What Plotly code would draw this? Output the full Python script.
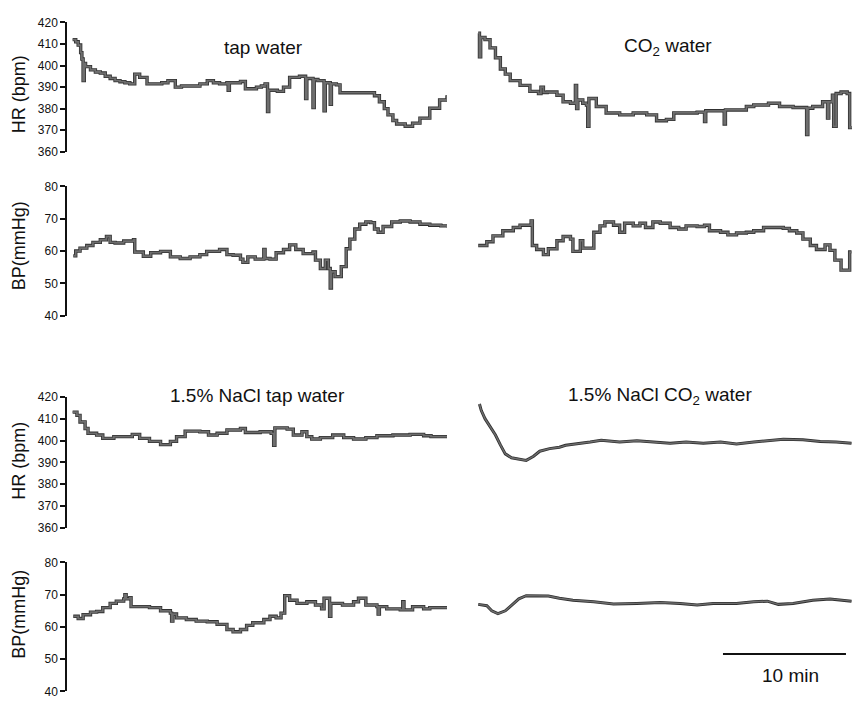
import plotly.graph_objects as go

W, H = 852, 705

# ---------------- data (time in minutes from start of each record) ----------------
hr_tap_t = [0.05,0.3,0.5,0.7,0.8,0.9,1.0,1.1,1.5,1.9,2.3,2.7,3.1,3.5,3.9,4.3,4.7,5.1,5.5,6.1,
            6.7,7.3,7.8,8.4,8.9,9.6,10.4,11.0,11.5,12.0,12.6,12.7,12.8,13.1,13.7,14.1,14.6,15.0,15.4,15.7,
            15.9,16.0,16.7,17.2,17.7,18.5,19.0,19.1,19.6,19.7,20.0,20.5,20.6,21.0,21.1,21.5,21.8,22.6,24.2,24.6,
            25.0,25.4,25.7,26.1,26.4,27.1,27.7,28.3,29.1,29.9,30.5]
hr_tap_v = [412,411,409.5,406,403,393,401,399.5,398,397,396.5,395,394,393,392.5,392,391.5,396,394.5,391.5,
            391.5,392,393,390,390.5,390.5,391.5,393,392,391.5,392,388.5,392,392,392.6,389.2,389.2,390,390.5,391.5,
            378.6,388.5,388,390,394.5,395,384.7,394,380.5,393.5,393,379,392,382,391.5,391,387.4,387.4,387.4,386,
            383.2,380,377.1,374.5,372.9,371.8,373.3,375.6,380.2,384,386.2]

hr_co2_t = [0.1,0.2,0.3,0.65,1.06,1.5,1.9,2.3,2.7,3.5,4.3,5.0,5.2,5.4,5.7,6.5,7.0,7.6,8.0,8.1,
            8.2,8.6,8.9,9.0,9.1,9.3,9.7,10.5,11.6,12.7,13.8,14.6,15.4,16.0,17.0,17.9,18.5,18.6,19.2,20.1,
            20.2,20.8,21.9,22.5,23.7,24.6,25.7,26.8,26.9,27.3,28.1,28.5,28.6,28.9,29.0,29.2,29.6,30.1,30.3,30.45]
hr_co2_v = [415,404,413,412,408.2,403.6,398.4,396,393,390.8,388,387,390,387.5,387.7,386.2,383.2,382.5,390.8,380,
            384,382.5,381.7,371.8,384.7,384.7,381,378,377.1,378,377.1,374.4,375,378,378,378.4,374,379,379,372.9,
            379.4,379.4,381,381.7,382.5,381,380.5,368,380.2,381,383.2,375.6,383.2,386.2,371.8,387,387.7,387,371.2,372]

bp_tap_t = [0.1,0.3,0.65,1.2,1.7,2.3,2.8,3.1,3.5,4.2,5.0,5.1,5.8,6.4,7.2,8.0,8.8,9.6,10.4,10.95,
            11.5,12.0,12.6,13.1,13.7,13.9,14.3,14.9,15.6,15.7,16.1,16.6,17.2,17.7,18.2,18.8,19.6,19.8,20.2,20.6,
            20.85,21.0,21.1,21.4,21.9,22.3,22.6,23.0,23.4,23.9,24.3,24.6,24.9,25.3,26.0,26.7,27.5,28.3,29.1,30.0,30.5]
bp_tap_v = [58.5,60,60.9,61.7,62.7,63.5,64.5,62.7,62.5,63.1,63.5,59.7,58.4,59.5,59.9,58.2,57.7,58.2,58.9,59.9,
            59.9,60.5,58.9,58.7,57.5,56.5,58.2,57.5,60.5,57.7,57.5,59.5,60.5,61.9,60.5,59.2,59.7,57.2,54.6,57.2,
            54.6,48.6,53.6,52.1,55.2,60.7,63.7,66.8,68.3,69,68.8,66.8,65.8,67.6,69,69.3,69,68.3,68,67.8,67.3]

bp_co2_t = [0.1,0.8,1.3,2.1,2.95,3.5,4.2,4.4,4.5,4.85,5.4,5.8,6.5,7.0,7.6,7.8,8.4,8.6,9.2,9.5,
            10.0,10.4,11.1,11.6,12.0,12.7,13.25,13.7,14.3,14.9,15.7,16.4,17.0,17.9,18.5,18.9,19.8,20.4,21.1,21.9,
            22.5,23.3,24.1,24.9,25.4,26.0,26.5,27.1,27.6,28.3,28.7,29.1,29.6,30.0,30.3,30.45]
bp_co2_v = [61.7,62.9,64.7,66.3,67.3,68,68,69.3,61.7,60.5,58.9,60.7,63.2,64.5,63.7,59.9,63.2,60.9,60.9,65.8,
            67.8,69,68,65.8,68.6,67.8,68.6,67.3,69,68.6,67.3,66.8,67.8,67.6,68,66.3,65.8,65,65.6,65.8,
            66.3,67.3,67.3,67,66.3,65.6,63.7,61.7,60.5,61.9,60.2,57.2,54.1,54.1,59.7,59.7]

hr_nacl_tap_t = [0.05,0.4,0.65,1.06,1.3,2.0,2.5,3.4,4.2,4.9,5.5,6.3,7.2,8.0,8.5,9.2,9.9,10.4,11.1,11.8,
                 12.6,13.7,14.1,15.3,16.2,16.4,16.5,17.5,18.0,18.7,19.1,19.5,20.2,21.2,22.1,22.9,23.9,24.8,26.1,27.5,
                 28.6,29.2,30.5]
hr_nacl_tap_v = [413,411.5,408.5,405.5,403.3,402.5,401,401.8,401.8,402.8,401,399.6,398.1,399.6,401.8,404.3,404.3,404,402.5,403.3,
                 404.8,405.5,403.7,404,403.3,397.8,405.8,405.2,402.5,404,401.8,400.7,401.3,402.5,401.3,400.7,401.3,402.2,402.5,402.8,
                 402.2,401.8,401.5]

hr_nacl_co2_t = [0.2,0.35,0.65,1.06,1.5,1.9,2.3,2.8,3.5,4.0,4.6,5.1,5.9,6.7,7.2,8.1,9.2,10.1,11.6,13.0,
                 14.3,15.7,17.0,18.4,19.8,21.1,22.5,23.8,24.9,26.5,27.9,29.2,30.45]
hr_nacl_co2_v = [416.7,413.7,410,406.3,402.5,398,393.9,392.1,391.3,390.9,392.8,395.1,396.3,396.9,397.8,398.4,399.3,400.1,399.3,399.9,
                 399.3,398.7,399.3,398.8,399.3,398.4,399.3,399.9,400.6,400.3,399.6,399.3,398.8]

bp_nacl_tap_t = [0.1,0.5,0.9,1.5,2.0,2.5,3.1,3.6,4.2,4.3,4.4,4.7,4.8,5.5,6.3,7.2,8.0,8.1,8.2,8.5,
                 9.3,10.1,11.0,11.8,12.6,13.1,13.7,14.2,14.7,15.6,16.1,16.6,17.0,17.3,17.7,18.3,19.1,19.8,20.3,20.5,
                 20.95,21.05,22.0,22.9,23.3,23.9,24.8,24.9,25.0,25.6,26.7,26.9,27.0,27.7,28.6,29.1,30.5]
bp_nacl_tap_v = [63.3,62.6,63.8,64.6,64.8,66,67.3,68,68.7,70,68.7,69.1,66.3,66.3,66,65,64.3,61.8,64,62.8,
                 62.3,61.8,61.6,60.8,59.2,58.5,59.2,60.5,61.3,62.3,63.3,62.8,64.3,69.7,68.3,67.3,67.8,66.8,65.6,68.9,
                 63.3,67.3,66.8,67.8,68.9,66.8,66.3,64,66.3,65.6,65.3,67.8,65.3,66.3,65.6,66,66.3]

bp_nacl_co2_t = [0.1,0.8,1.2,1.7,2.3,2.8,3.4,4.0,4.85,5.8,6.7,7.8,9.5,11.1,13.0,14.9,16.5,17.9,19.2,21.1,
                 22.5,23.6,24.5,25.7,27.3,28.7,30.45]
bp_nacl_co2_v = [67,66.6,65,64.1,65,66.8,68.7,69.7,69.7,69.6,68.9,68.3,67.8,67.1,67.3,67.6,67.3,66.8,67.3,67.3,
                 67.8,68,67,67.3,68.3,68.7,68]

hr_ticks = [360, 370, 380, 390, 400, 410, 420]
bp_ticks = [40, 50, 60, 70, 80]
hr_range = [360, 420]
bp_range = [40, 80]

panel_titles = ["tap water", "CO<sub>2</sub> water",
                "1.5% NaCl tap water", "1.5% NaCl CO<sub>2</sub> water"]
hr_title = "HR (bpm)"
bp_title = "BP(mmHg)"
scale_bar_min = [20, 30]
scale_bar_level = 51.6
scale_label = "10 min"

# ---------------- layout geometry (pixels) ----------------
def px_x(p):
    return p / W

def px_y(p):
    return 1 - p / H

left_dom = [px_x(67), px_x(447)]
right_dom = [px_x(477), px_x(852)]
left_rng = [-0.41, 30.5]
right_rng = [0, 30.49]

rows = [  # (top px, bottom px, range, ticks)
    (15.7, 147.7, hr_range, hr_ticks),
    (183, 315, bp_range, bp_ticks),
    (397.7, 531.5, hr_range, hr_ticks),
    (566.7, 698.3, bp_range, bp_ticks),
]

panels = [
    (hr_tap_t, hr_tap_v, 0, 0, "hv", 3.4),
    (hr_co2_t, hr_co2_v, 0, 1, "hv", 3.4),
    (bp_tap_t, bp_tap_v, 1, 0, "hv", 3.4),
    (bp_co2_t, bp_co2_v, 1, 1, "hv", 3.4),
    (hr_nacl_tap_t, hr_nacl_tap_v, 2, 0, "hv", 3.4),
    (hr_nacl_co2_t, hr_nacl_co2_v, 2, 1, "linear", 3.0),
    (bp_nacl_tap_t, bp_nacl_tap_v, 3, 0, "hv", 3.4),
    (bp_nacl_co2_t, bp_nacl_co2_v, 3, 1, "linear", 3.0),
]

FONT = "Liberation Sans, Arial, sans-serif"
fig = go.Figure()
layout = dict(width=W, height=H, margin=dict(l=0, r=0, t=0, b=0),
              paper_bgcolor="white", plot_bgcolor="rgba(0,0,0,0)",
              showlegend=False, font=dict(family=FONT, color="#111"))

for i, (t, v, r, c, shape, lw) in enumerate(panels):
    n = i + 1
    xa = "x" if n == 1 else f"x{n}"
    ya = "y" if n == 1 else f"y{n}"
    top, bot, rng, ticks = rows[r]
    layout["xaxis" if n == 1 else f"xaxis{n}"] = dict(
        domain=left_dom if c == 0 else right_dom,
        range=left_rng if c == 0 else right_rng,
        anchor=ya, visible=False, fixedrange=True)
    yax = dict(domain=[px_y(bot), px_y(top)], range=rng, anchor=xa,
               showgrid=False, zeroline=False, fixedrange=True)
    if c == 0:
        yax.update(showline=True, linecolor="#111", linewidth=1.5,
                   ticks="outside", ticklen=5, tickwidth=1.5, tickcolor="#111",
                   tickvals=ticks, ticktext=[str(k) for k in ticks],
                   tickfont=dict(size=12, family=FONT, color="#111"))
    else:
        yax.update(visible=False)
    layout["yaxis" if n == 1 else f"yaxis{n}"] = yax
    fig.add_trace(go.Scatter(x=t, y=v, xaxis=xa, yaxis=ya, mode="lines",
                             line=dict(color="#303030", width=lw, shape=shape),
                             hoverinfo="skip"))
    fig.add_trace(go.Scatter(x=t, y=v, xaxis=xa, yaxis=ya, mode="lines",
                             line=dict(color="#6e6e6e", width=lw - 1.6, shape=shape),
                             hoverinfo="skip"))

# 10 min scale bar on the last (bottom-right) panel
fig.add_trace(go.Scatter(x=scale_bar_min, y=[scale_bar_level] * 2, xaxis="x8", yaxis="y8",
                         mode="lines", line=dict(color="#111", width=2), hoverinfo="skip"))

ann = []
for txt, xp, yp in [(panel_titles[0], 263.5, 41.5), (panel_titles[1], 668, 41),
                    (panel_titles[2], 257, 396.5), (panel_titles[3], 660, 396.5)]:
    ann.append(dict(text=txt, x=px_x(xp), y=px_y(yp), xref="paper", yref="paper",
                    showarrow=False, xanchor="center", yanchor="middle",
                    font=dict(size=19, family=FONT, color="#111")))
for txt, yp in [(hr_title, 89), (bp_title, 244), (hr_title, 463), (bp_title, 620)]:
    ann.append(dict(text=txt, x=px_x(19), y=px_y(yp), xref="paper", yref="paper",
                    showarrow=False, textangle=-90, xanchor="center", yanchor="middle",
                    font=dict(size=18, family=FONT, color="#111")))
ann.append(dict(text=scale_label, x=px_x(790), y=px_y(682.5), xref="paper", yref="paper",
                showarrow=False, xanchor="center", yanchor="middle",
                font=dict(size=19, family=FONT, color="#111")))
layout["annotations"] = ann

fig.update_layout(**layout)
fig.write_html("out.html")
